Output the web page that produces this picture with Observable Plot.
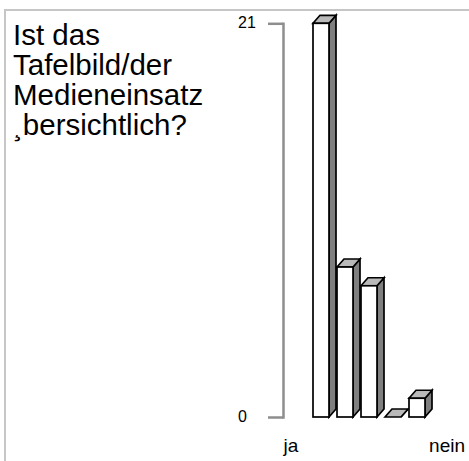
<!DOCTYPE html>
<html><head><meta charset="utf-8">
<script src="https://cdn.jsdelivr.net/npm/d3@7"></script>
<script src="https://cdn.jsdelivr.net/npm/@observablehq/plot@0.6"></script>
<style>
html,body{margin:0;padding:0;background:#fff;overflow:hidden;}
#wrap{position:relative;width:469px;height:461px;overflow:hidden;background:#fff;}
#chart{position:absolute;left:0;top:0;}
#border{position:absolute;left:4px;top:9px;width:600px;height:600px;border:2px solid #c6c6c6;box-sizing:border-box;pointer-events:none;}
#title{position:absolute;left:13px;top:20px;font-family:"Liberation Sans",Arial,Helvetica,sans-serif;font-size:29.5px;line-height:30px;color:#000;white-space:pre;}
</style></head><body>
<div id="wrap"><div id="chart"></div><div id="border"></div><div id="title"></div></div>
<script>
const titleLines = ["Ist das", "Tafelbild/der", "Medieneinsatz", "¸bersichtlich?"];
const categories = ["1", "2", "3", "4", "5"];
const values = [21, 8, 7, 0, 1];
const yTicks = [0, 21];
const endLabels = ["ja", "nein"];

document.getElementById("title").textContent = titleLines.join("\n");

const data = categories.map((k, i) => ({k, v: values[i]}));

const DX = 7, DY = 8;
const SIDE = "#7f7f7f", TOP = "#b9b9b9";
const NS = "http://www.w3.org/2000/svg";
function poly(pts, fill) {
  const p = document.createElementNS(NS, "polygon");
  p.setAttribute("points", pts.map(d => d.join(",")).join(" "));
  p.setAttribute("fill", fill);
  p.setAttribute("stroke", "black");
  p.setAttribute("stroke-width", "1.7");
  return p;
}
function extrude(index, scales, vals, dims, ctx, next) {
  const g = next(index, scales, vals, dims, ctx);
  const rects = Array.from(g.querySelectorAll("rect"));
  for (const r of rects) {
    const x = +r.getAttribute("x"), y = +r.getAttribute("y");
    const w = +r.getAttribute("width"), h = +r.getAttribute("height");
    const side = poly([[x + w, y], [x + w + DX, y - DY], [x + w + DX, y + h - DY], [x + w, y + h]], SIDE);
    const top = poly([[x, y], [x + DX, y - DY], [x + w + DX, y - DY], [x + w, y]], TOP);
    r.parentNode.insertBefore(side, r);
    r.parentNode.insertBefore(top, r);
  }
  return g;
}

const gray = "#8e8e8e";
const chart = Plot.plot({
  width: 469,
  height: 461,
  marginLeft: 283,
  marginRight: 13,
  marginTop: 23.3,
  marginBottom: 44,
  style: {fontFamily: "'Liberation Sans', Arial, Helvetica, sans-serif", background: "transparent", color: "#000"},
  x: {type: "band", domain: categories, paddingInner: 0.321, paddingOuter: 1.22, axis: null},
  y: {domain: [0, 21], axis: null},
  marks: [
    Plot.frame({anchor: "left", stroke: gray, strokeWidth: 2.5}),
    Plot.axisY(yTicks, {tickSize: 15, stroke: gray, strokeWidth: 2.5, label: null, tickFormat: () => ""}),
    Plot.text(yTicks, {y: d => d, text: d => String(d), frameAnchor: "left", textAnchor: "start", dx: -45.5, dy: -1, fontSize: 16, fill: "#000"}),
    Plot.barY(data, {x: "k", y: "v", fill: "white", stroke: "black", strokeWidth: 1.7, render: extrude}),
    Plot.text([endLabels[0]], {text: d => d, frameAnchor: "bottom-left", textAnchor: "start", lineAnchor: "top", dy: 20.5, fontSize: 19, fill: "#000"}),
    Plot.text([endLabels[1]], {text: d => d, frameAnchor: "bottom-right", textAnchor: "end", lineAnchor: "top", dx: 8.5, dy: 20.5, fontSize: 19, fill: "#000"})
  ]
});
document.getElementById("chart").appendChild(chart);
</script>
</body></html>
